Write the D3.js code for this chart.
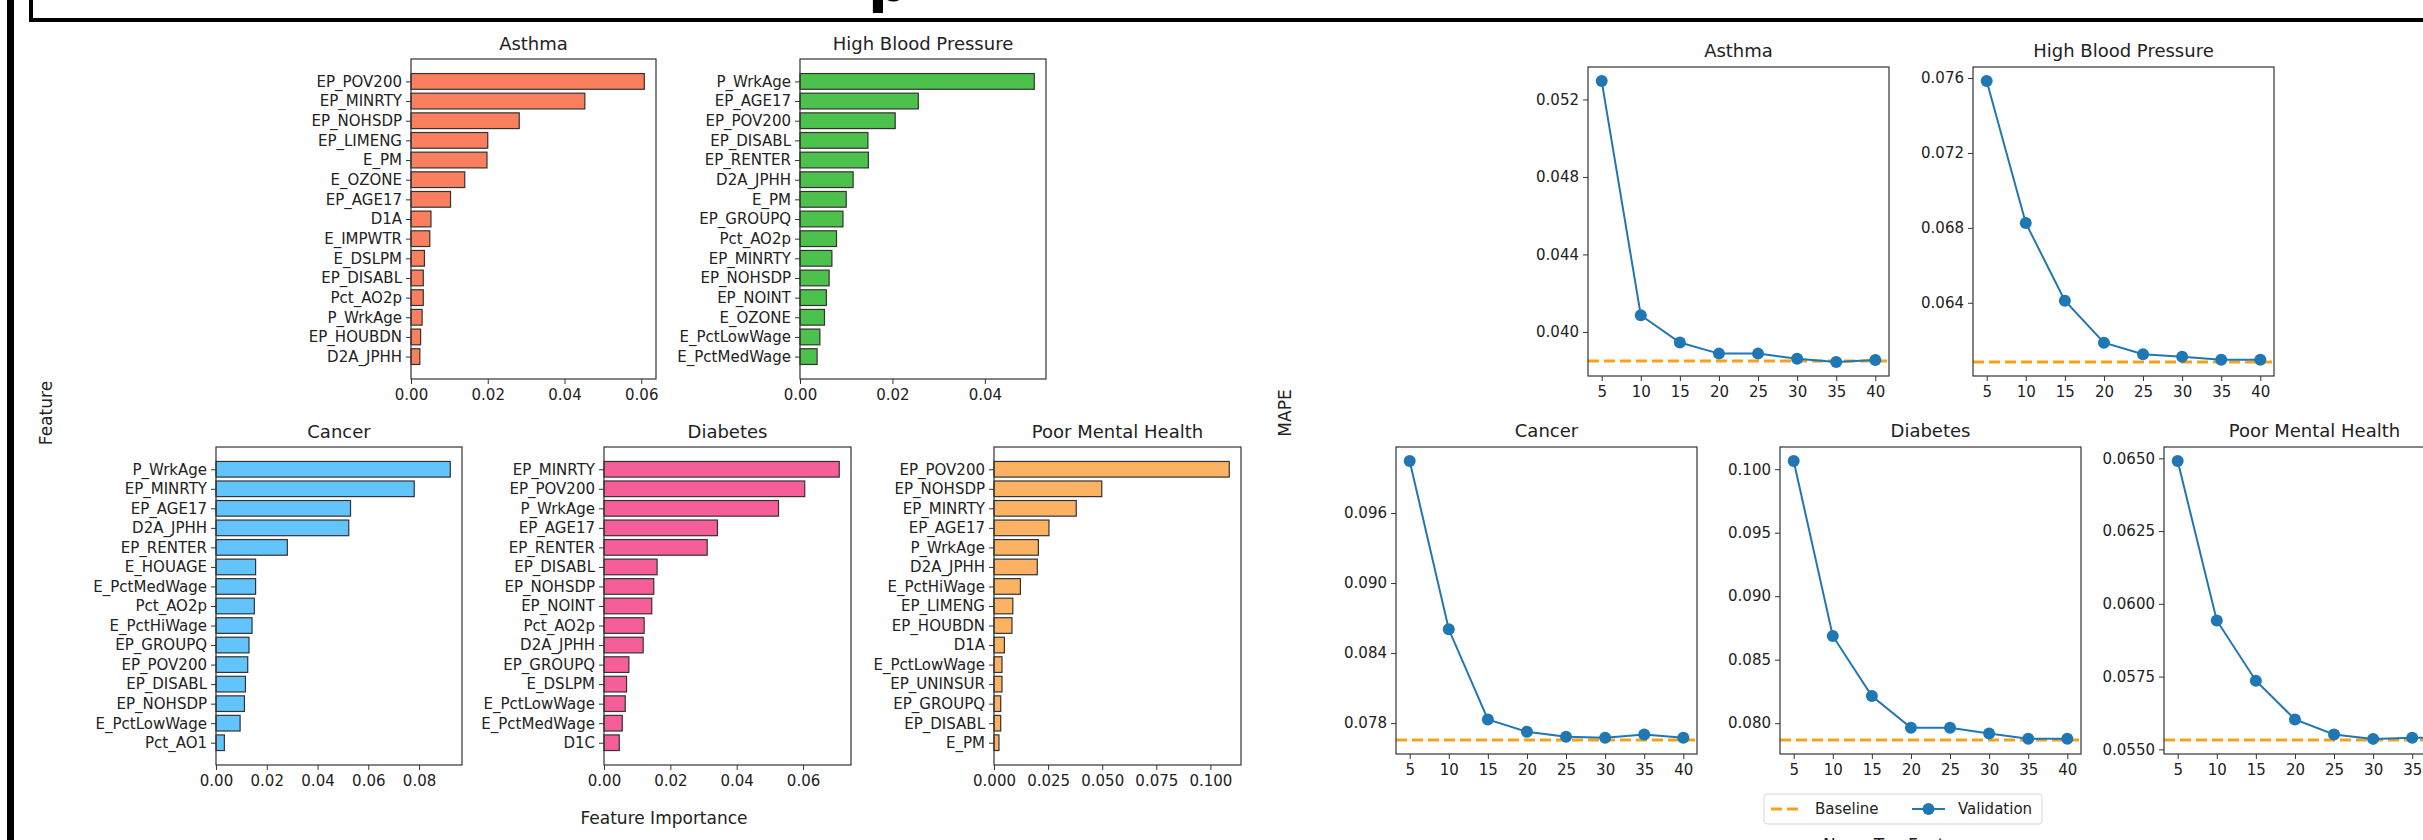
<!DOCTYPE html>
<html>
<head>
<meta charset="utf-8">
<script src="https://cdn.jsdelivr.net/npm/d3@7"></script>
<style>
body { margin: 0; background: #fff; }
svg { display: block; font-family: "DejaVu Sans", sans-serif; }
</style>
</head>
<body>
<svg id="chart" width="2423" height="840"></svg>
<script>
// ---- feature importance (top 15 per outcome) ----
var asthmaFeatures = ["EP_POV200","EP_MINRTY","EP_NOHSDP","EP_LIMENG","E_PM","E_OZONE","EP_AGE17","D1A","E_IMPWTR","E_DSLPM","EP_DISABL","Pct_AO2p","P_WrkAge","EP_HOUBDN","D2A_JPHH"]
var asthmaImportance = [0.0608,0.0453,0.0282,0.0200,0.0198,0.0140,0.0103,0.0052,0.0049,0.0035,0.0032,0.0032,0.0029,0.0025,0.0023]

var hbpFeatures = ["P_WrkAge","EP_AGE17","EP_POV200","EP_DISABL","EP_RENTER","D2A_JPHH","E_PM","EP_GROUPQ","Pct_AO2p","EP_MINRTY","EP_NOHSDP","EP_NOINT","E_OZONE","E_PctLowWage","E_PctMedWage"]
var hbpImportance = [0.0507,0.0256,0.0206,0.0147,0.0148,0.0115,0.0100,0.0093,0.0079,0.0069,0.0063,0.0057,0.0053,0.0043,0.0037]

var cancerFeatures = ["P_WrkAge","EP_MINRTY","EP_AGE17","D2A_JPHH","EP_RENTER","E_HOUAGE","E_PctMedWage","Pct_AO2p","E_PctHiWage","EP_GROUPQ","EP_POV200","EP_DISABL","EP_NOHSDP","E_PctLowWage","Pct_AO1"]
var cancerImportance = [0.0923,0.0781,0.0530,0.0523,0.0281,0.0156,0.0156,0.0151,0.0142,0.0130,0.0125,0.0116,0.0112,0.0095,0.0033]

var diabetesFeatures = ["EP_MINRTY","EP_POV200","P_WrkAge","EP_AGE17","EP_RENTER","EP_DISABL","EP_NOHSDP","EP_NOINT","Pct_AO2p","D2A_JPHH","EP_GROUPQ","E_DSLPM","E_PctLowWage","E_PctMedWage","D1C"]
var diabetesImportance = [0.0709,0.0605,0.0526,0.0342,0.0311,0.0160,0.0150,0.0144,0.0121,0.0118,0.0075,0.0068,0.0064,0.0055,0.0046]

var mentalFeatures = ["EP_POV200","EP_NOHSDP","EP_MINRTY","EP_AGE17","P_WrkAge","D2A_JPHH","E_PctHiWage","EP_LIMENG","EP_HOUBDN","D1A","E_PctLowWage","EP_UNINSUR","EP_GROUPQ","EP_DISABL","E_PM"]
var mentalImportance = [0.1087,0.0498,0.0380,0.0254,0.0205,0.0200,0.0122,0.0087,0.0083,0.0048,0.0037,0.0037,0.0031,0.0031,0.0023]

// ---- MAPE vs number of top features ----
var numTopFeatures = [5,10,15,20,25,30,35,40]
var asthmaMape   = [0.05295,0.04086,0.03945,0.03888,0.03888,0.03862,0.03845,0.03855]
var hbpMape      = [0.07584,0.06826,0.06411,0.06187,0.06125,0.06112,0.06096,0.06096]
var cancerMape   = [0.10046,0.08604,0.07831,0.07726,0.07684,0.07675,0.07703,0.07675]
var diabetesMape = [0.10065,0.08687,0.08214,0.07963,0.07963,0.07919,0.07877,0.07877]
var mentalMape   = [0.06491,0.05943,0.05736,0.05603,0.05551,0.05536,0.05540,0.05540]
var baselineMape = [0.03850,0.06084,0.07655,0.07867,0.05532] // asthma, hbp, cancer, diabetes, mental

// tick labels
var impTicks2 = [0,0.02,0.04,0.06,0.08]
var impTicksMental = [0,0.025,0.05,0.075,0.1]
var asthmaMapeTicks = [0.040,0.044,0.048,0.052]
var hbpMapeTicks = [0.064,0.068,0.072,0.076]
var cancerMapeTicks = [0.078,0.084,0.090,0.096]
var diabetesMapeTicks = [0.080,0.085,0.090,0.095,0.100]
var mentalMapeTicks = [0.0550,0.0575,0.0600,0.0625,0.0650]

var svg = d3.select("#chart")
svg.append("rect").attr("width", 2423).attr("height", 840).attr("fill", "#fff")

var ink = "#222"
var spine = "#333"

// frame pieces of the slide the figure sits on
svg.append("text").attr("x", 868).attr("y", 1).attr("font-size", 58).attr("font-weight", "bold").attr("fill", "#000").text("p")
svg.append("path").attr("d", "M31,0V20H2423").attr("fill", "none").attr("stroke", "#000").attr("stroke-width", 4)
svg.append("rect").attr("x", 7).attr("y", 0).attr("width", 7).attr("height", 840).attr("fill", "#000")

function styleAxis(g) {
    g.select(".domain").remove()
    g.selectAll(".tick line").attr("stroke", spine).attr("stroke-width", 1)
    g.selectAll(".tick text").attr("fill", ink).attr("font-size", 15).attr("font-family", "DejaVu Sans")
}

function drawBars(title, names, values, color, ticks, fmt, x0, w, top, bottom) {
    var g = svg.append("g")
    var x = d3.scaleLinear().domain([0, d3.max(values) * 1.05]).range([x0, x0 + w])
    var y = d3.scaleLinear().domain([-1.14, 15.14]).range([top, bottom])

    g.selectAll("rect.bar").data(values).enter().append("rect")
        .attr("class", "bar")
        .attr("x", x(0))
        .attr("y", (d, i) => y(i - 0.4))
        .attr("width", d => x(d) - x(0))
        .attr("height", y(0.8) - y(0))
        .attr("fill", color)
        .attr("stroke", "#333")
        .attr("stroke-width", 1.2)

    var ya = g.append("g").attr("transform", "translate(" + x0 + ",0)")
        .call(d3.axisLeft(y).tickValues(d3.range(names.length)).tickFormat(i => names[i]).tickSize(5).tickPadding(4))
    styleAxis(ya)

    var xa = g.append("g").attr("transform", "translate(0," + bottom + ")")
        .call(d3.axisBottom(x).tickValues(ticks.filter(t => t <= x.domain()[1])).tickFormat(d3.format(fmt)).tickSize(5).tickPadding(5))
    styleAxis(xa)

    g.append("rect").attr("x", x0).attr("y", top).attr("width", w).attr("height", bottom - top)
        .attr("fill", "none").attr("stroke", spine).attr("stroke-width", 1.2)

    g.append("text").attr("x", x0 + w / 2).attr("y", top - 9).attr("text-anchor", "middle")
        .attr("font-size", 18).attr("fill", ink).text(title)
}

function drawLine(title, values, base, ticks, fmt, x0, w, top, bottom) {
    var g = svg.append("g")
    var x = d3.scaleLinear().domain([3.25, 41.75]).range([x0, x0 + w])
    var lo = Math.min(d3.min(values), base), hi = Math.max(d3.max(values), base)
    var pad = (hi - lo) * 0.05
    var y = d3.scaleLinear().domain([lo - pad, hi + pad]).range([bottom, top])

    var clip = "clip" + Math.round(x0)
    g.append("clipPath").attr("id", clip).append("rect").attr("x", x0).attr("y", top).attr("width", w).attr("height", bottom - top)

    var plot = g.append("g").attr("clip-path", "url(#" + clip + ")")
    plot.append("line").attr("x1", x0).attr("x2", x0 + w).attr("y1", y(base)).attr("y2", y(base))
        .attr("stroke", "#f5a21b").attr("stroke-width", 3).attr("stroke-dasharray", "11,5")

    var pts = numTopFeatures.map((n, i) => [n, values[i]])
    plot.append("path").datum(pts)
        .attr("d", d3.line().x(d => x(d[0])).y(d => y(d[1])))
        .attr("fill", "none").attr("stroke", "#1f77b4").attr("stroke-width", 2)
    plot.selectAll("circle").data(pts).enter().append("circle")
        .attr("cx", d => x(d[0])).attr("cy", d => y(d[1])).attr("r", 6).attr("fill", "#1f77b4")

    var ya = g.append("g").attr("transform", "translate(" + x0 + ",0)")
        .call(d3.axisLeft(y).tickValues(ticks).tickFormat(d3.format(fmt)).tickSize(5).tickPadding(4))
    styleAxis(ya)

    var xa = g.append("g").attr("transform", "translate(0," + bottom + ")")
        .call(d3.axisBottom(x).tickValues(numTopFeatures).tickSize(5).tickPadding(5))
    styleAxis(xa)

    g.append("rect").attr("x", x0).attr("y", top).attr("width", w).attr("height", bottom - top)
        .attr("fill", "none").attr("stroke", spine).attr("stroke-width", 1.2)

    g.append("text").attr("x", x0 + w / 2).attr("y", top - 10).attr("text-anchor", "middle")
        .attr("font-size", 18).attr("fill", ink).text(title)
}

// left figure: feature importance
drawBars("Asthma", asthmaFeatures, asthmaImportance, "#fa7f5f", impTicks2, ".2f", 411, 245, 59, 379)
drawBars("High Blood Pressure", hbpFeatures, hbpImportance, "#4cc24c", impTicks2, ".2f", 800, 246, 59, 379)
drawBars("Cancer", cancerFeatures, cancerImportance, "#63c3fb", impTicks2, ".2f", 216, 246, 447, 765)
drawBars("Diabetes", diabetesFeatures, diabetesImportance, "#f65e99", impTicks2, ".2f", 604, 247, 447, 765)
drawBars("Poor Mental Health", mentalFeatures, mentalImportance, "#fbb263", impTicksMental, ".3f", 994, 247, 447, 765)

svg.append("text").attr("transform", "translate(52,413) rotate(-90)").attr("text-anchor", "middle")
    .attr("font-size", 17).attr("fill", ink).text("Feature")
svg.append("text").attr("x", 664).attr("y", 824).attr("text-anchor", "middle")
    .attr("font-size", 17).attr("fill", ink).text("Feature Importance")

// right figure: MAPE
drawLine("Asthma", asthmaMape, baselineMape[0], asthmaMapeTicks, ".3f", 1588, 301, 67, 376)
drawLine("High Blood Pressure", hbpMape, baselineMape[1], hbpMapeTicks, ".3f", 1973, 301, 67, 376)
drawLine("Cancer", cancerMape, baselineMape[2], cancerMapeTicks, ".3f", 1396, 301, 447, 754)
drawLine("Diabetes", diabetesMape, baselineMape[3], diabetesMapeTicks, ".3f", 1780, 301, 447, 754)
drawLine("Poor Mental Health", mentalMape, baselineMape[4], mentalMapeTicks, ".4f", 2164, 301, 447, 754)

svg.append("text").attr("transform", "translate(1291,413) rotate(-90)").attr("text-anchor", "middle")
    .attr("font-size", 17).attr("fill", ink).text("MAPE")
svg.append("text").attr("x", 1902).attr("y", 851).attr("text-anchor", "middle")
    .attr("font-size", 17).attr("fill", ink).text("Num. Top Features")

// legend
var lg = svg.append("g")
lg.append("rect").attr("x", 1764).attr("y", 794).attr("width", 278).attr("height", 30).attr("rx", 3)
    .attr("fill", "#fff").attr("stroke", "#d6d6d6")
lg.append("line").attr("x1", 1771).attr("x2", 1800).attr("y1", 809).attr("y2", 809)
    .attr("stroke", "#f5a21b").attr("stroke-width", 3).attr("stroke-dasharray", "11,5")
lg.append("text").attr("x", 1815).attr("y", 814).attr("font-size", 15).attr("fill", ink).text("Baseline")
lg.append("line").attr("x1", 1912).attr("x2", 1945).attr("y1", 809).attr("y2", 809)
    .attr("stroke", "#1f77b4").attr("stroke-width", 2)
lg.append("circle").attr("cx", 1928.5).attr("cy", 809).attr("r", 6).attr("fill", "#1f77b4")
lg.append("text").attr("x", 1958).attr("y", 814).attr("font-size", 15).attr("fill", ink).text("Validation")
</script>
</body>
</html>
